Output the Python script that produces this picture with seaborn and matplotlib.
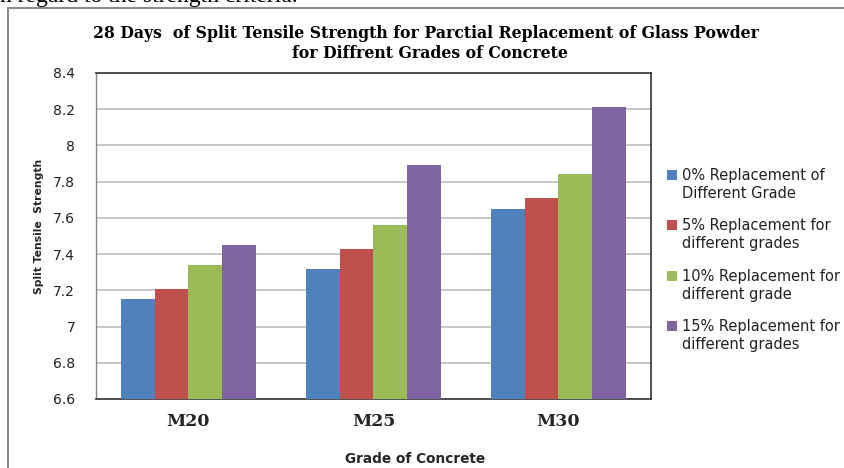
import matplotlib
matplotlib.use("Agg")
import matplotlib.pyplot as plt
from matplotlib.patches import Rectangle
import seaborn as sns
import pandas as pd

# Grades of concrete and glass-powder replacement levels
grades = ["M20", "M25", "M30"]
series = [
    "0% Replacement of\nDifferent Grade",
    "5% Replacement for\ndifferent grades",
    "10% Replacement for\ndifferent grade",
    "15% Replacement for\ndifferent grades",
]
# 28-day split tensile strength per grade, one list per replacement level
strength_0 = [7.15, 7.32, 7.65]
strength_5 = [7.21, 7.43, 7.71]
strength_10 = [7.34, 7.56, 7.84]
strength_15 = [7.45, 7.89, 8.21]
colors = ["#4F81BD", "#C0504D", "#9BBB59", "#8064A2"]
y_ticks = [6.6, 6.8, 7.0, 7.2, 7.4, 7.6, 7.8, 8.0, 8.2, 8.4]

rows = []
for label, vals in zip(series, [strength_0, strength_5, strength_10, strength_15]):
    for g, v in zip(grades, vals):
        rows.append({"Grade": g, "Series": label, "Strength": v})
df = pd.DataFrame(rows)

sns.set_style("white")
plt.rcParams["font.family"] = ["DejaVu Sans"]

W, H = 845, 468
fig = plt.figure(figsize=(W / 100, H / 100), dpi=100)
fig.patch.set_facecolor("white")

# outer chart frame (open to the right and bottom)
fig.add_artist(Rectangle((8 / W, -0.1), 1.2, (H - 8) / H + 0.1,
                         transform=fig.transFigure, fill=False,
                         edgecolor="#8c8c8c", linewidth=1.5))

# clipped line of body text above the chart
fig.text(0, 1 - 2 / H, "n regard to the strength criteria.", ha="left",
         va="baseline", fontsize=17, family="Liberation Serif", color="black")

ax = fig.add_axes([96 / W, (H - 399) / H, 555 / W, 326 / H])

sns.barplot(data=df, x="Grade", y="Strength", hue="Series", hue_order=series,
            order=grades, palette=colors, saturation=1, width=0.73,
            linewidth=0, edgecolor="none", ax=ax, legend=False, zorder=3)

ax.set_ylim(6.6, 8.4)
ax.set_xlim(-0.5, 2.5)
ax.set_yticks(y_ticks)
ax.set_yticklabels([f"{v:g}" for v in y_ticks], fontsize=10)
ax.yaxis.grid(True, color="#c4c4c4", linewidth=1.3, zorder=0)
ax.set_axisbelow(True)
ax.tick_params(axis="y", length=6, width=1, color="#868686", pad=9, labelcolor="#222222")
ax.tick_params(axis="x", length=0, pad=10)
ax.set_xticks(range(len(grades)))
ax.set_xticklabels(grades, family="DejaVu Serif", fontweight="bold", fontsize=12.5)

for side in ["top", "right", "bottom"]:
    ax.spines[side].set_visible(True)
    ax.spines[side].set_color("#333333")
    ax.spines[side].set_linewidth(1.2)
ax.spines["left"].set_color("#868686")
ax.spines["left"].set_linewidth(1.0)

ax.set_xlabel("Grade of Concrete", fontsize=9.8, fontweight="bold")
ax.set_ylabel("Split Tensile  Strength", fontsize=7.8, fontweight="bold")
ax.yaxis.set_label_coords(-52 / 555, 0.53)
ax.xaxis.set_label_coords(319 / 555, -53 / 326)

title_kw = dict(ha="center", va="center", fontsize=11.3, family="DejaVu Serif",
                fontweight="bold", color="black")
fig.text(426 / W, 1 - 33 / H,
         "28 Days  of Split Tensile Strength for Parctial Replacement of Glass Powder",
         **title_kw)
fig.text(430 / W, 1 - 53 / H, "for Diffrent Grades of Concrete", **title_kw)

# legend: colour square beside the first line of each two-line label
for i, (label, c) in enumerate(zip(series, colors)):
    y_first = 175 + i * 50.3
    fig.add_artist(Rectangle((667 / W, 1 - (y_first + 5) / H), 10 / W, 10 / H,
                             transform=fig.transFigure, facecolor=c, edgecolor="none"))
    fig.text(682 / W, 1 - (y_first - 7) / H, label, ha="left", va="top",
             fontsize=10.5, linespacing=1.25, color="#222222")

fig.savefig("out.png", dpi=100)
